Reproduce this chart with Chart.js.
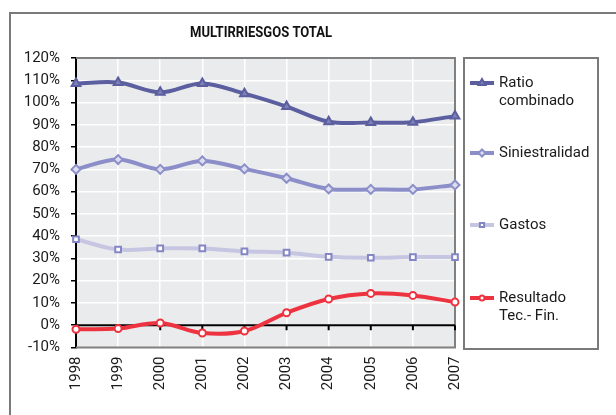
<!DOCTYPE html>
<html>
<head>
<meta charset="utf-8">
<script src="https://cdn.jsdelivr.net/npm/chart.js@4"></script>
<style>
html,body{margin:0;padding:0;background:#fff;}
#wrap{width:616px;height:415px;position:relative;}
</style>
</head>
<body>
<div id="wrap"><canvas id="c" width="616" height="415"></canvas></div>
<script>
const years = ['1998','1999','2000','2001','2002','2003','2004','2005','2006','2007'];
const ratioCombinado = [108.6, 109, 104.6, 108.6, 104, 98.2, 91.4, 91, 91.2, 93.9];
const siniestralidad = [70, 74.4, 70, 73.8, 70.2, 66, 61.2, 61, 61, 63];
const gastos = [38.6, 34, 34.5, 34.5, 33.2, 32.6, 30.7, 30.3, 30.6, 30.6];
const resultado = [-1.8, -1.5, 1, -3.5, -2.6, 5.6, 11.8, 14.3, 13.4, 10.4];
const yTicks = [-10, 0, 10, 20, 30, 40, 50, 60, 70, 80, 90, 100, 110, 120];
const titleText = 'MULTIRRIESGOS TOTAL';
const legendLabels = [['Ratio','combinado'], ['Siniestralidad'], ['Gastos'], ['Resultado','Tec.- Fin.']];

const FONT = 'Roboto, "Liberation Sans", sans-serif';

const deco = {
  id: 'deco',
  beforeDraw(chart) {
    const {ctx, chartArea: a} = chart;
    ctx.save();
    ctx.strokeStyle = '#7a7a7a';
    ctx.lineWidth = 2;
    ctx.beginPath();
    ctx.moveTo(10, 415); ctx.lineTo(10, 13); ctx.lineTo(620, 13);
    ctx.stroke();
    ctx.fillStyle = '#EAEBED';
    ctx.fillRect(a.left, a.top, a.right - a.left, a.bottom - a.top);
    ctx.fillStyle = '#111';
    ctx.font = 'bold 14px ' + FONT;
    ctx.textAlign = 'center';
    ctx.textBaseline = 'middle';
    const w = ctx.measureText(titleText).width;
    ctx.translate(261, 33);
    ctx.scale(142 / w, 1);
    ctx.fillText(titleText, 0, 0);
    ctx.restore();
  },
  beforeDatasetsDraw(chart) {
    const {ctx, chartArea: a, scales} = chart;
    ctx.save();
    ctx.strokeStyle = '#808080';
    ctx.lineWidth = 2;
    ctx.beginPath();
    ctx.moveTo(a.left, a.top); ctx.lineTo(a.right, a.top); ctx.lineTo(a.right, a.bottom); ctx.lineTo(a.left, a.bottom);
    ctx.stroke();
    const y0 = scales.y.getPixelForValue(0);
    ctx.strokeStyle = '#000';
    ctx.lineWidth = 2;
    ctx.beginPath();
    ctx.moveTo(a.left, y0); ctx.lineTo(a.right, y0);
    for (let i = 0; i < years.length; i++) {
      const x = scales.x.getPixelForValue(i);
      ctx.moveTo(x, y0); ctx.lineTo(x, y0 + 5);
    }
    ctx.stroke();
    ctx.restore();
  },
  afterDraw(chart) {
    const {ctx} = chart;
    ctx.save();
    ctx.strokeStyle = '#7a7a7a';
    ctx.lineWidth = 2;
    ctx.strokeRect(464, 58, 134, 291);
    const ys = [83, 153, 225, 298];
    ctx.font = '15px ' + FONT;
    ctx.textAlign = 'left';
    ctx.textBaseline = 'middle';
    chart.data.datasets.forEach((ds, i) => {
      const y = ys[i];
      ctx.strokeStyle = ds.borderColor;
      ctx.lineWidth = 4;
      ctx.beginPath(); ctx.moveTo(470, y); ctx.lineTo(494, y); ctx.stroke();
      ctx.fillStyle = ds.pointBackgroundColor;
      ctx.strokeStyle = ds.pointBorderColor;
      ctx.lineWidth = ds.pointBorderWidth;
      Chart.helpers.drawPoint(ctx, {pointStyle: ds.pointStyle, radius: ds.pointRadius - 1, rotation: 0, borderWidth: ds.pointBorderWidth}, 482, y);
      ctx.fillStyle = '#1a1a1a';
      legendLabels[i].forEach((t, k) => ctx.fillText(t, 499, y + k * 18));
    });
    ctx.restore();
  }
};

new Chart(document.getElementById('c'), {
  type: 'line',
  data: {
    labels: years,
    datasets: [
      {label: 'Ratio combinado', data: ratioCombinado, borderColor: '#5B5E9F', borderWidth: 4,
       pointStyle: 'triangle', pointRadius: 5, pointBorderWidth: 2, pointBorderColor: '#5B5E9F', pointBackgroundColor: '#7E81B8'},
      {label: 'Siniestralidad', data: siniestralidad, borderColor: '#8B8EC8', borderWidth: 4,
       pointStyle: 'rectRot', pointRadius: 4.5, pointBorderWidth: 2, pointBorderColor: '#8B8EC8', pointBackgroundColor: '#DCDDF0'},
      {label: 'Gastos', data: gastos, borderColor: '#C6C6E3', borderWidth: 4,
       pointStyle: 'rect', pointRadius: 4, pointBorderWidth: 2, pointBorderColor: '#8385C4', pointBackgroundColor: '#ffffff'},
      {label: 'Resultado Tec.- Fin.', data: resultado, borderColor: '#EE3340', borderWidth: 4,
       pointStyle: 'circle', pointRadius: 3.5, pointBorderWidth: 2, pointBorderColor: '#EE3340', pointBackgroundColor: '#ffffff'}
    ]
  },
  options: {
    responsive: false,
    animation: false,
    devicePixelRatio: 1,
    layout: {padding: {left: 0, right: 161, top: 58, bottom: 0}},
    elements: {line: {tension: 0.35}},
    plugins: {legend: {display: false}, title: {display: false}, tooltip: {enabled: false}},
    scales: {
      x: {
        offset: false,
        grid: {color: '#ffffff', lineWidth: 1.5, drawTicks: false},
        border: {display: false},
        ticks: {minRotation: 90, maxRotation: 90, padding: 9, color: '#1a1a1a', font: {family: FONT, size: 15}},
        afterFit(s) { s.height = 67.5; }
      },
      y: {
        min: -10, max: 120,
        afterBuildTicks(s) { s.ticks = yTicks.map(v => ({value: v})); },
        grid: {color: '#ffffff', lineWidth: 1.5, tickColor: '#000', tickLength: 5, drawTicks: true},
        border: {display: true, color: '#000', width: 2},
        ticks: {padding: 11, color: '#1a1a1a', font: {family: FONT, size: 15}, callback: v => v + '%'},
        afterFit(s) { s.width = 76; }
      }
    }
  },
  plugins: [deco]
});
</script>
</body>
</html>
